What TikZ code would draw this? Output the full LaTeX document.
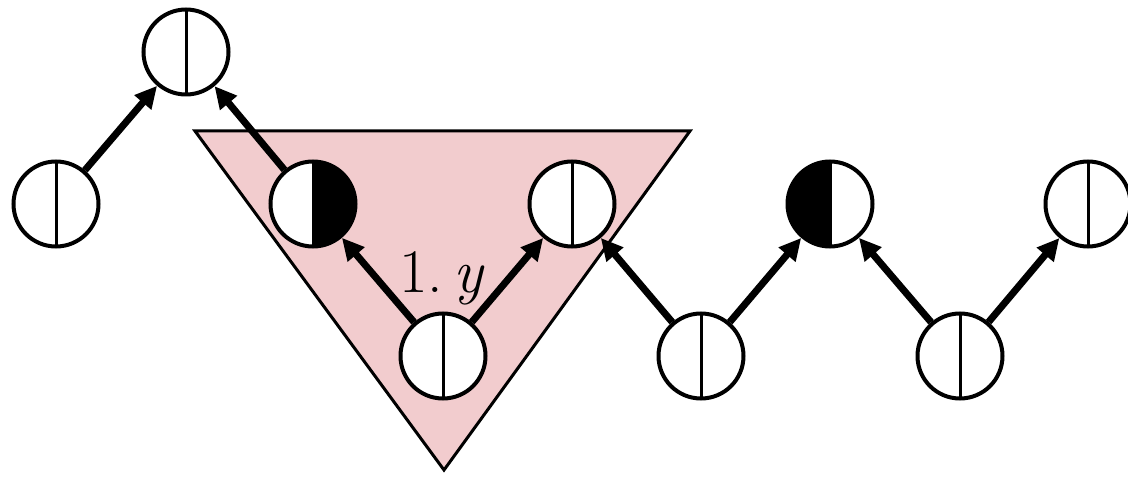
\documentclass[tikz,border=0pt]{standalone}
\usetikzlibrary{arrows.meta}
\definecolor{tripink}{RGB}{242,204,206}
\begin{document}
\begin{tikzpicture}[x=1pt,y=-1pt,
  vline/.style={line width=3pt, draw=black},
  nd/.style={circle, draw, line width=4pt, fill=white, minimum size=85pt, inner sep=0pt,
    path picture={\draw[vline] (path picture bounding box.north) -- (path picture bounding box.south);}},
  ndright/.style={circle, draw, line width=4pt, fill=white, minimum size=85pt, inner sep=0pt,
    path picture={\fill[black] (path picture bounding box.north) rectangle (path picture bounding box.south east);
      \draw[vline] (path picture bounding box.north) -- (path picture bounding box.south);}},
  ndleft/.style={circle, draw, line width=4pt, fill=white, minimum size=85pt, inner sep=0pt,
    path picture={\fill[black] (path picture bounding box.north) rectangle (path picture bounding box.south west);
      \draw[vline] (path picture bounding box.north) -- (path picture bounding box.south);}},
  arr/.style={line width=7pt, -{Triangle[length=22pt,width=21pt]}},
  tri/.style={draw, fill=tripink, line width=3pt, line join=miter}
]
\useasboundingbox (0,0) rectangle (1128,478);
\draw[tri] (195,131) -- (690,131) -- (444,470) -- cycle;

\node[nd] (t) at (186,52) {};
\node[nd] (a) at (56,204) {};
\node[ndright] (b) at (313,204) {};
\node[nd] (c) at (572,204) {};
\node[ndleft] (d) at (830,204) {};
\node[nd] (e) at (1088,204) {};
\node[nd] (p) at (443,356) {};
\node[nd] (q) at (701,356) {};
\node[nd] (r) at (960,356) {};

\draw[arr] (a) -- (t);
\draw[arr] (b) -- (t);
\draw[arr] (p) -- (b);
\draw[arr] (p) -- (c);
\draw[arr] (q) -- (c);
\draw[arr] (q) -- (d);
\draw[arr] (r) -- (d);
\draw[arr] (r) -- (e);

\node[anchor=base, inner sep=0pt, font=\fontsize{62}{70}\selectfont] (lbl) at (442,293) {1.\,\textit{y}};
\end{tikzpicture}
\end{document}
